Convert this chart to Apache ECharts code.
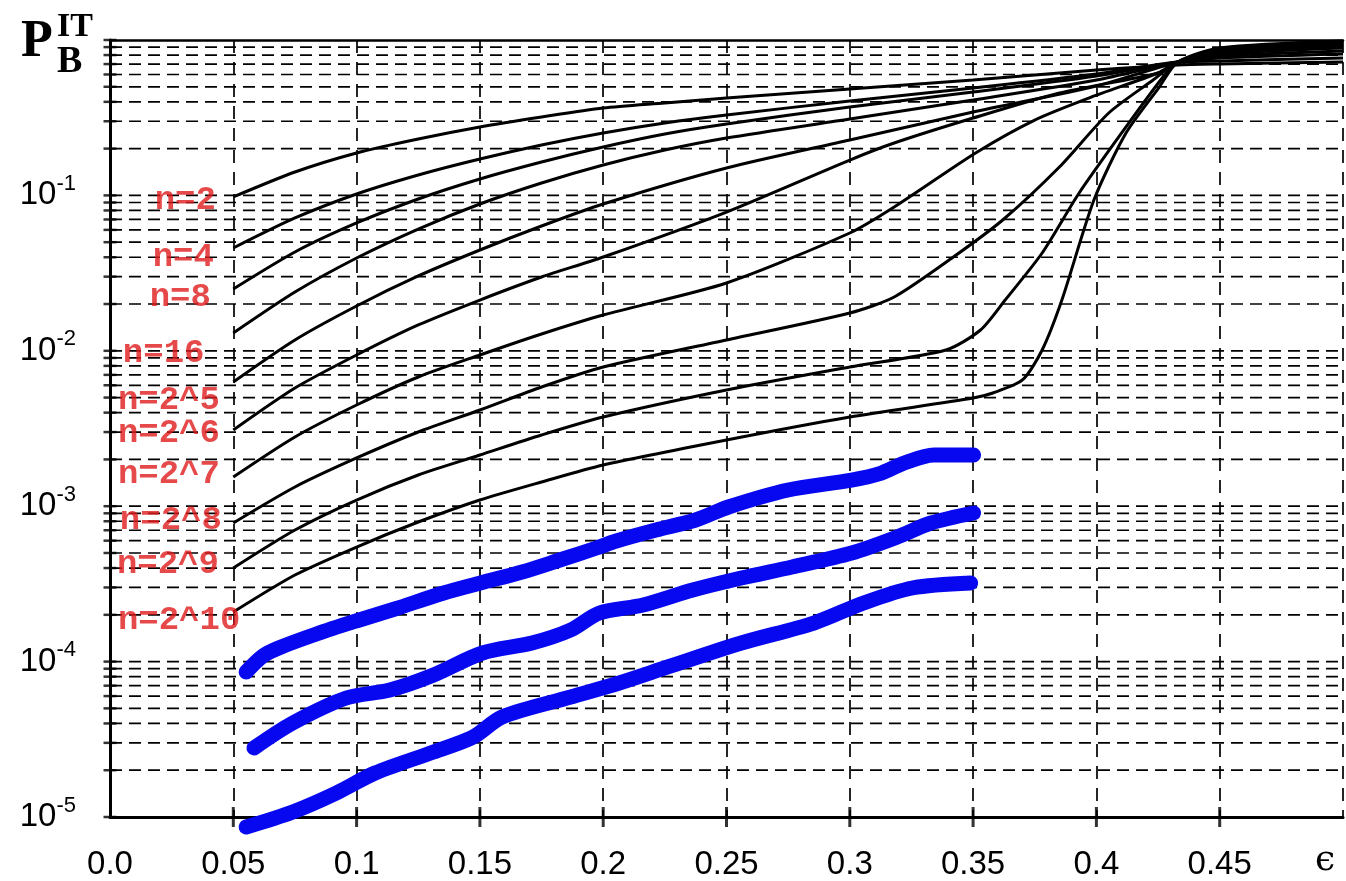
<!DOCTYPE html>
<html>
<head>
<meta charset="utf-8">
<title>P_B^IT versus epsilon</title>
<script src="https://cdn.jsdelivr.net/npm/echarts@6/dist/echarts.min.js"></script>
<style>
  html, body { margin: 0; padding: 0; background: #fff; }
  #chart { width: 1346px; height: 881px; }
</style>
</head>
<body>
<div id="chart"></div>
<script>
// values, [epsilon, P_B]
const xTickLabels = ['0.0', '0.05', '0.1', '0.15', '0.2', '0.25', '0.3', '0.35', '0.4', '0.45', '']
const yExponents = ['-5', '-4', '-3', '-2', '-1', '']
const decades = [1e-5, 1e-4, 1e-3, 1e-2, 1e-1]
const mantissas = [1, 2, 3, 4, 5, 6, 7, 8, 9]

const curveNames = ['n=2', 'n=4', 'n=8', 'n=16', 'n=2^5', 'n=2^6', 'n=2^7', 'n=2^8', 'n=2^9', 'n=2^10']
const labelAnchors = [
  [0.0181, 0.0933], [0.0173, 0.0396], [0.0161, 0.0219], [0.0052, 0.00968], [0.0032, 0.00482],
  [0.0032, 0.00296], [0.0032, 0.00159], [0.004, 0.000815], [0.0028, 0.000419], [0.0032, 0.000185]
]

const n2 = [[0.05, 0.0977], [0.075, 0.1414], [0.1, 0.1875], [0.125, 0.2306], [0.15, 0.2756], [0.175, 0.3194], [0.2, 0.365], [0.225, 0.3932], [0.25, 0.4233], [0.3, 0.4838], [0.35, 0.5529], [0.4, 0.641], [0.433, 0.6904], [0.45, 0.7008], [0.5, 0.7219]]
const n4 = [[0.05, 0.04586], [0.075, 0.07155], [0.1, 0.1021], [0.125, 0.1353], [0.15, 0.1715], [0.175, 0.211], [0.2, 0.2521], [0.225, 0.2922], [0.25, 0.3292], [0.3, 0.405], [0.35, 0.4911], [0.4, 0.6043], [0.433, 0.7219], [0.45, 0.7327], [0.5, 0.7661]]
const n8 = [[0.05, 0.02498], [0.075, 0.04323], [0.1, 0.06645], [0.125, 0.0948], [0.15, 0.1275], [0.175, 0.164], [0.2, 0.2049], [0.225, 0.2484], [0.25, 0.288], [0.3, 0.3706], [0.35, 0.4626], [0.4, 0.5866], [0.433, 0.7219], [0.45, 0.7661], [0.5, 0.8127]]
const n16 = [[0.05, 0.01302], [0.075, 0.02389], [0.1, 0.03956], [0.125, 0.06077], [0.15, 0.08805], [0.175, 0.1202], [0.2, 0.1569], [0.225, 0.1959], [0.25, 0.2341], [0.3, 0.3101], [0.35, 0.4111], [0.4, 0.5529], [0.433, 0.7219], [0.45, 0.7889], [0.5, 0.8495]]
const n32 = [[0.05, 0.006297], [0.075, 0.01174], [0.1, 0.01942], [0.125, 0.0303], [0.15, 0.04453], [0.175, 0.06354], [0.2, 0.08805], [0.25, 0.1501], [0.3, 0.2272], [0.35, 0.3441], [0.4, 0.5058], [0.433, 0.7219], [0.45, 0.8127], [0.5, 0.8882]]
const n64 = [[0.05, 0.003093], [0.075, 0.005762], [0.1, 0.009397], [0.125, 0.01466], [0.15, 0.02122], [0.175, 0.02985], [0.2, 0.04015], [0.25, 0.07817], [0.3, 0.1689], [0.318, 0.2174], [0.35, 0.3147], [0.385, 0.4559], [0.425, 0.6133], [0.433, 0.7219], [0.45, 0.8372], [0.5, 0.9149]]
const n128 = [[0.05, 0.001541], [0.075, 0.002789], [0.1, 0.004479], [0.125, 0.006784], [0.15, 0.009397], [0.175, 0.01283], [0.2, 0.017], [0.25, 0.02731], [0.3, 0.05728], [0.318, 0.08422], [0.351, 0.1875], [0.375, 0.3055], [0.398, 0.4297], [0.425, 0.6133], [0.433, 0.7219], [0.45, 0.8495], [0.5, 0.9425]]
const n256 = [[0.05, 0.0007795], [0.075, 0.001329], [0.1, 0.002043], [0.125, 0.003003], [0.15, 0.004159], [0.175, 0.005849], [0.2, 0.007865], [0.25, 0.01174], [0.3, 0.01751], [0.318, 0.02219], [0.342, 0.04015], [0.362, 0.06946], [0.385, 0.1523], [0.405, 0.3391], [0.423, 0.5529], [0.433, 0.7219], [0.45, 0.8623], [0.5, 0.9565]]
const n512 = [[0.05, 0.0004002], [0.075, 0.0007026], [0.1, 0.001096], [0.125, 0.001588], [0.15, 0.002135], [0.175, 0.002872], [0.2, 0.00375], [0.25, 0.005595], [0.3, 0.007865], [0.339, 0.01012], [0.353, 0.01361], [0.363, 0.02122], [0.378, 0.04259], [0.393, 0.1036], [0.412, 0.2756], [0.427, 0.578], [0.433, 0.7219], [0.45, 0.8751], [0.5, 0.9708]]
const n1024 = [[0.05, 0.0002085], [0.075, 0.0003608], [0.1, 0.0005463], [0.125, 0.000791], [0.15, 0.001096], [0.175, 0.001431], [0.2, 0.001841], [0.25, 0.002667], [0.3, 0.00375], [0.35, 0.004969], [0.358, 0.005352], [0.37, 0.006489], [0.378, 0.01012], [0.386, 0.02122], [0.399, 0.09341], [0.412, 0.2521], [0.4255, 0.4983], [0.433, 0.7219], [0.45, 0.8882], [0.5, 0.9853]]

// thick blue simulation curves
const blueTop = [[0.0552, 8.57e-5], [0.062, 1.086e-4], [0.0684, 1.224e-4], [0.0837, 1.505e-4], [0.0998, 1.825e-4], [0.1155, 2.181e-4], [0.1353, 2.763e-4], [0.1502, 3.204e-4], [0.1671, 3.772e-4], [0.1824, 4.506e-4], [0.1973, 5.383e-4], [0.2053, 5.97e-4], [0.2214, 7.026e-4], [0.2375, 8.151e-4], [0.2508, 9.883e-4], [0.275, 1.271e-3], [0.3007, 1.474e-3], [0.3128, 1.635e-3], [0.3221, 1.897e-3], [0.3341, 2.135e-3], [0.3502, 2.135e-3]]
const blueMid = [[0.0584, 2.78e-5], [0.0741, 4.025e-5], [0.0958, 5.832e-5], [0.1135, 6.566e-5], [0.1312, 8.2e-5], [0.151, 1.136e-4], [0.1711, 1.317e-4], [0.1868, 1.597e-4], [0.1985, 2.055e-4], [0.2162, 2.313e-4], [0.2363, 2.888e-4], [0.256, 3.451e-4], [0.2766, 4.063e-4], [0.3007, 4.998e-4], [0.3192, 6.333e-4], [0.3329, 7.795e-4], [0.3502, 9.042e-4]]
const blueLow = [[0.0552, 8.62e-6], [0.0741, 1.077e-5], [0.0918, 1.427e-5], [0.1075, 1.919e-5], [0.1312, 2.62e-5], [0.1473, 3.271e-5], [0.159, 4.4e-5], [0.1868, 5.918e-5], [0.2065, 7.283e-5], [0.2262, 9.233e-5], [0.256, 1.317e-4], [0.2854, 1.771e-4], [0.3056, 2.382e-4], [0.3253, 2.976e-4], [0.349, 3.204e-4]]

const blackCurves = [n2, n4, n8, n16, n32, n64, n128, n256, n512, n1024]
const blueCurves = [blueTop, blueMid, blueLow]

// log grid levels 1,2,...,9 x 10^k
const levels = []
decades.forEach(d => mantissas.forEach(m => levels.push(+(d * m).toPrecision(3))))
const xTicks = xTickLabels.map((t, i) => +(i * 0.05).toFixed(2))

const series = []
// horizontal dashed grid lines, one short series per level
levels.filter(v => v > 1e-5).forEach(v => {
  series.push({
    type: 'line',
    silent: true,
    showSymbol: false,
    data: [[0, v], [0.5, v]],
    lineStyle: { color: '#000', width: 1.7, type: [12, 7] },
    z: 1
  })
})
// cross ticks on the left axis
series.push({
  type: 'scatter',
  silent: true,
  clip: false,
  symbol: 'rect',
  symbolSize: [13, 2.5],
  itemStyle: { color: '#000' },
  data: levels.concat([1]).map(v => [0, v]),
  z: 5
})
// cross ticks on the bottom axis
series.push({
  type: 'scatter',
  silent: true,
  clip: false,
  symbol: 'rect',
  symbolSize: [3, 20],
  itemStyle: { color: '#000' },
  data: xTicks.slice(1, -1).map(x => [x, 1e-5]),
  z: 5
})
blackCurves.forEach((d, i) => {
  series.push({
    name: curveNames[i],
    type: 'line',
    data: d,
    showSymbol: false,
    smooth: 0.25,
    clip: true,
    lineStyle: { color: '#000', width: 3 },
    z: 3
  })
})
blueCurves.forEach(d => {
  series.push({
    type: 'line',
    data: d,
    showSymbol: false,
    smooth: 0.3,
    clip: false,
    lineStyle: { color: '#0808f0', width: 15, cap: 'round', join: 'round' },
    z: 4
  })
})
// red curve names
series.push({
  type: 'scatter',
  silent: true,
  clip: false,
  symbolSize: 0,
  data: labelAnchors.map((p, i) => ({ value: p, name: curveNames[i] })),
  label: {
    show: true,
    position: 'right',
    distance: 0,
    formatter: '{b}',
    color: '#e01b1b',
    fontFamily: 'Liberation Mono',
    fontWeight: 'bold',
    fontSize: 34
  },
  z: 6
})

const serif = 'Liberation Serif'
const option = {
  animation: false,
  backgroundColor: '#fff',
  title: [
    { text: 'P', left: 16, top: 12, textStyle: { fontFamily: serif, fontSize: 52, fontWeight: 'bold', color: '#000' } },
    { text: 'IT', left: 52, top: 5, textStyle: { fontFamily: serif, fontSize: 34, fontWeight: 'bold', color: '#000' } },
    { text: 'B', left: 52, top: 38, textStyle: { fontFamily: serif, fontSize: 38, fontWeight: 'bold', color: '#000' } }
  ],
  graphic: [
    { type: 'text', left: 1315, top: 843, style: { text: 'ϵ', font: '36px "DejaVu Serif"', fill: '#000' } }
  ],
  grid: { left: 110, top: 40, width: 1242, height: 777 },
  xAxis: [{
    type: 'value',
    min: 0,
    max: 0.5,
    interval: 0.05,
    axisLine: { lineStyle: { color: '#000', width: 3 } },
    axisTick: { show: false },
    splitLine: { show: true, lineStyle: { color: '#000', width: 1.7, type: [13, 9] } },
    axisLabel: {
      margin: 31,
      color: '#000',
      fontFamily: 'Liberation Sans',
      fontSize: 33,
      formatter: (v, i) => xTickLabels[i]
    }
  }, {
    type: 'value',
    position: 'top',
    min: 0,
    max: 0.5,
    axisLine: { show: true, lineStyle: { color: '#000', width: 2.5 } },
    axisTick: { show: false },
    axisLabel: { show: false },
    splitLine: { show: false }
  }],
  yAxis: {
    type: 'log',
    logBase: 10,
    min: 1e-5,
    max: 1,
    axisLine: { show: true, lineStyle: { color: '#000', width: 3 } },
    axisTick: { show: false },
    splitLine: { show: false },
    axisLabel: {
      margin: 34,
      color: '#000',
      formatter: v => {
        const e = Math.round(Math.log10(v))
        const s = yExponents[e + 5]
        return s ? '{b|10}{s|' + s + '}' : ''
      },
      rich: {
        b: { fontFamily: 'Liberation Sans', fontSize: 33, lineHeight: 33, color: '#000' },
        s: { fontFamily: 'Liberation Sans', fontSize: 22, lineHeight: 22, padding: [0, 0, 23, 0], color: '#000' }
      }
    }
  },
  series: series
}

const chart = echarts.init(document.getElementById('chart'))
chart.setOption(option)
</script>
</body>
</html>
